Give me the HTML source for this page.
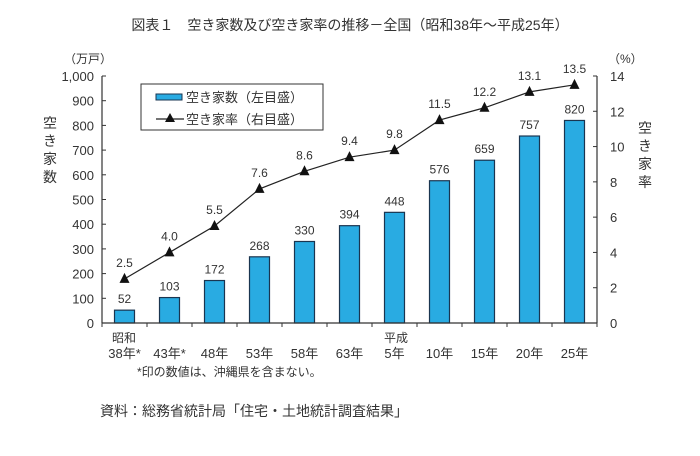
<!DOCTYPE html>
<html><head><meta charset="utf-8"><style>
body{margin:0;background:#fff;width:700px;height:451px;overflow:hidden;font-family:"Liberation Sans","Noto Sans CJK JP",sans-serif;}
svg text{font-family:"Liberation Sans","Noto Sans CJK JP",sans-serif;fill:#333;}
</style></head><body>
<svg id="c" width="700" height="451"></svg>
<script>
const categories=["38年*","43年*","48年","53年","58年","63年","5年","10年","15年","20年","25年"];
const counts=[52,103,172,268,330,394,448,576,659,757,820];
const rates=[2.5,4.0,5.5,7.6,8.6,9.4,9.8,11.5,12.2,13.1,13.5];
const leftTicks=[0,100,200,300,400,500,600,700,800,900,1000];
const leftTickLabels=["0","100","200","300","400","500","600","700","800","900","1,000"];
const rightTicks=[0,2,4,6,8,10,12,14];
const rateLabels=["2.5","4.0","5.5","7.6","8.6","9.4","9.8","11.5","12.2","13.1","13.5"];
const NS="http://www.w3.org/2000/svg";
const svg=document.getElementById('c');
const X0=102,X1=597,Y0=323,Y1=76;
const step=(X1-X0)/categories.length;
const xC=i=>X0+step*(i+0.5);
const yL=v=>Y0-(v/1000)*(Y0-Y1);
const yR=v=>Y0-(v/14)*(Y0-Y1);
function el(t,a,txt){const e=document.createElementNS(NS,t);for(const k in a)e.setAttribute(k,a[k]);if(txt!==undefined)e.textContent=txt;svg.appendChild(e);return e;}
let t;
t=el('text',{x:350,y:30,'text-anchor':'middle','font-size':14},'図表１　空き家数及び空き家率の推移－全国（昭和38年～平成25年）');


t=el('text',{x:64,y:63,'font-size':12},'（万戸）');


t=el('text',{x:608,y:63,'font-size':12},'（%）');


// bars
counts.forEach((v,i)=>{
 const r=el('rect',{x:xC(i)-10,y:yL(v),width:20,height:Y0-yL(v),fill:'#29abe2',stroke:'#1a3550','stroke-width':1.2});
 
 
 const l=el('text',{x:xC(i),y:yL(v)-7,'text-anchor':'middle','font-size':12},String(v));
 
 
});
// axes
t=el('line',{x1:X0,y1:Y1,x2:X0,y2:Y0,stroke:'#333','stroke-width':1.2});


t=el('line',{x1:X1,y1:Y1,x2:X1,y2:Y0,stroke:'#333','stroke-width':1.2});


t=el('line',{x1:X0,y1:Y0,x2:X1,y2:Y0,stroke:'#333','stroke-width':1.2});


leftTicks.forEach((v,i)=>{
 el('line',{x1:X0,y1:yL(v),x2:X0+4,y2:yL(v),stroke:'#333'});
 const l=el('text',{x:94,y:yL(v)+5,'text-anchor':'end','font-size':13},leftTickLabels[i]);
 
 
});
rightTicks.forEach(v=>{
 el('line',{x1:X1-4,y1:yR(v),x2:X1,y2:yR(v),stroke:'#333'});
 const l=el('text',{x:610,y:yR(v)+5,'font-size':13},String(v));
 
 
});
for(let i=0;i<=categories.length;i++){el('line',{x1:X0+step*i,y1:Y0,x2:X0+step*i,y2:Y0+4,stroke:'#333'});}
// line
const pts=rates.map((v,i)=>xC(i)+','+yR(v)).join(' ');
t=el('polyline',{points:pts,fill:'none',stroke:'#222','stroke-width':1.2});


rates.forEach((v,i)=>{
 const x=xC(i),y=yR(v);
 const p=el('polygon',{points:`${x},${y-6} ${x-5},${y+4} ${x+5},${y+4}`,fill:'#111'});
 
 
 const l=el('text',{x:x,y:y-12,'text-anchor':'middle','font-size':12},rateLabels[i]);
 
 
});
// x labels
categories.forEach((c,i)=>{
 const l=el('text',{x:xC(i),y:358,'text-anchor':'middle','font-size':13},c);
 
 
});
t=el('text',{x:112,y:342,'font-size':12},'昭和');


t=el('text',{x:384,y:342,'font-size':12},'平成');


t=el('text',{x:137,y:376,'font-size':12},'*印の数値は、沖縄県を含まない。');


t=el('text',{x:100,y:416,'font-size':14},'資料：総務省統計局「住宅・土地統計調査結果」');


// axis titles vertical
['空','き','家','数'].forEach((ch,i)=>{const l=el('text',{x:50,y:128+i*18,'text-anchor':'middle','font-size':14},ch);
 
 });
['空','き','家','率'].forEach((ch,i)=>{const l=el('text',{x:645,y:133+i*18,'text-anchor':'middle','font-size':14},ch);
 
 });
// legend
t=el('rect',{x:141,y:84,width:182,height:46,fill:'#fff',stroke:'#333','stroke-width':1});


t=el('rect',{x:156,y:94,width:26,height:6,fill:'#29abe2',stroke:'#1a3550'});


t=el('text',{x:186,y:102,'font-size':13},'空き家数（左目盛）');


t=el('line',{x1:156,y1:119,x2:184,y2:119,stroke:'#222','stroke-width':1.2});


el('polygon',{points:'170,113 165,122 175,122',fill:'#111'});
t=el('text',{x:186,y:124,'font-size':13},'空き家率（右目盛）');


</script>
</body></html>
